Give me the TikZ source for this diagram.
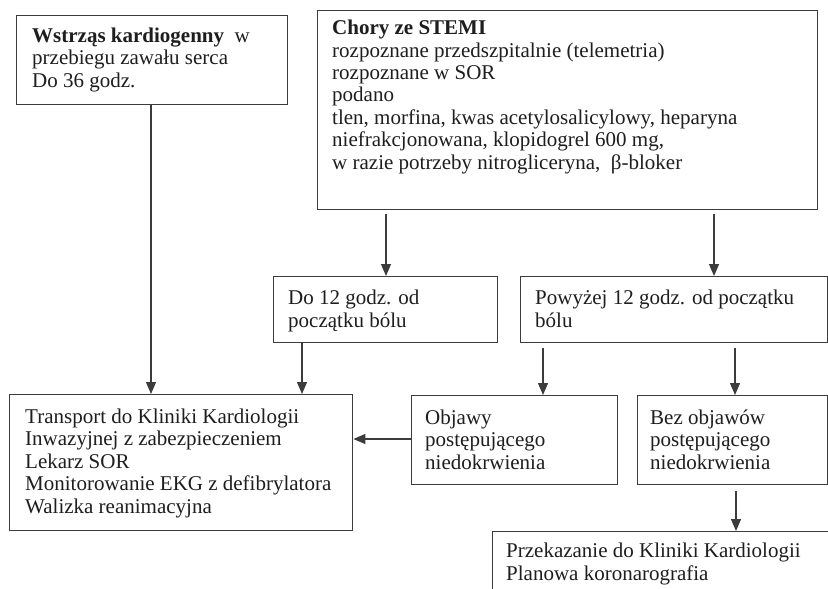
\documentclass[tikz,border=0pt]{standalone}
\usepackage{fontspec}
\setmainfont{Liberation Serif}
\usetikzlibrary{arrows.meta}
\definecolor{ln}{HTML}{3C3C3C}
\definecolor{tx}{HTML}{1E1E1E}
\begin{document}
\begin{tikzpicture}[x=1pt,y=-1pt,
 box/.style={draw=ln, line width=1.4pt, anchor=north west, inner sep=0pt},
 txt/.style={anchor=base west, align=left, inner sep=0pt, text=tx, font=\fontsize{21}{22.4}\selectfont},
 arr/.style={draw=ln, line width=1.3pt, -{Triangle[width=10pt,length=12pt]}}]
\fill[white] (0,0) rectangle (828,589);
\useasboundingbox (0,0) rectangle (828,589);
\clip (0,0) rectangle (828,589);
% boxes
\node[box, minimum width=271pt, minimum height=89pt] (A) at (16,15) {};
\node[box, minimum width=500pt, minimum height=199pt] (B) at (317,10) {};
\node[box, minimum width=224pt, minimum height=66pt] (C) at (273,276) {};
\node[box, minimum width=307pt, minimum height=66pt] (D) at (520,276) {};
\node[box, minimum width=343pt, minimum height=136pt] (T) at (9,394) {};
\node[box, minimum width=206pt, minimum height=89pt] (E) at (411,395) {};
\node[box, minimum width=190pt, minimum height=89pt] (F) at (637,395) {};
\node[box, minimum width=400pt, minimum height=100pt] (G) at (492,531) {};
% texts (anchored at the baseline of their last line)
\node[txt] (tA) at (32,87) {\textbf{Wstrząs kardiogenny}\ \ w\\przebiegu zawału serca\\Do 36 godz.};
\node[txt] (tB) at (332,169) {\textbf{Chory ze STEMI}\\rozpoznane przedszpitalnie (telemetria)\\rozpoznane w SOR\\podano\\tlen, morfina, kwas acetylosalicylowy, heparyna\\niefrakcjonowana, klopidogrel 600 mg,\\w razie potrzeby nitrogliceryna,\ \ β-bloker};
\node[txt] (tC) at (288,327) {Do 12 godz. od\\początku bólu};
\node[txt] (tD) at (535,327) {Powyżej 12 godz. od początku\\bólu};
\node[txt] (tT) at (25,513) {Transport do Kliniki Kardiologii\\Inwazyjnej z zabezpieczeniem\\Lekarz SOR\\Monitorowanie EKG z defibrylatora\\Walizka reanimacyjna};
\node[txt] (tE) at (425,469) {Objawy\\postępującego\\niedokrwienia};
\node[txt] (tF) at (650,469) {Bez objawów\\postępującego\\niedokrwienia};
\node[txt] (tG) at (506,580) {Przekazanie do Kliniki Kardiologii\\Planowa koronarografia};
% connector columns
\coordinate (xa) at (151,0);
\coordinate (xb1) at (386,0);
\coordinate (xb2) at (714,0);
\coordinate (xc) at (302,0);
\coordinate (xd1) at (543,0);
\coordinate (xd2) at (735,0);
\coordinate (xf) at (736,0);
\coordinate (yE) at (0,439);
% connectors
\draw[arr] (A.south -| xa) -- (T.north -| xa);
\draw[arr, shorten <=4pt] (B.south -| xb1) -- (C.north -| xb1);
\draw[arr, shorten <=4pt] (B.south -| xb2) -- (D.north -| xb2);
\draw[arr] (C.south -| xc) -- (T.north -| xc);
\draw[arr, shorten <=5pt] (D.south -| xd1) -- (E.north -| xd1);
\draw[arr, shorten <=5pt] (D.south -| xd2) -- (F.north -| xd2);
\draw[arr] (E.west |- yE) -- (T.east |- yE);
\draw[arr, shorten <=6pt] (F.south -| xf) -- (G.north -| xf);
\end{tikzpicture}
\end{document}
